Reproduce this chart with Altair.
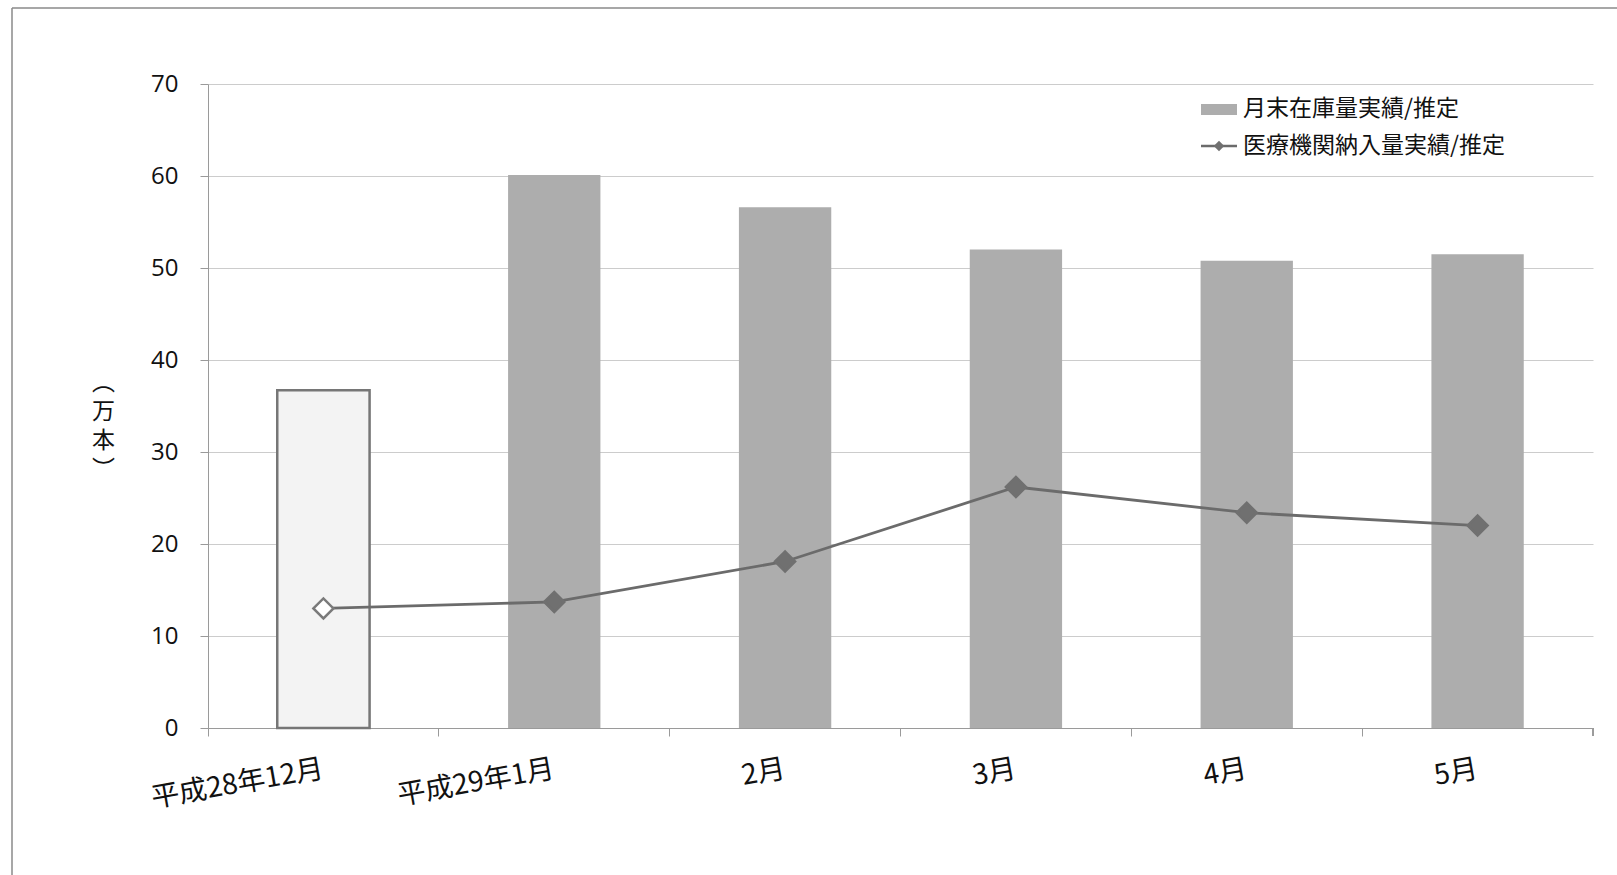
import altair as alt
import pandas as pd

# Monthly figures (unit: 万本)
months = ["平成28年12月", "平成29年1月", "2月", "3月", "4月", "5月"]
years = ["H28", "H29", "H29", "H29", "H29", "H29"]
stock = [36.7, 60.1, 56.6, 52.0, 50.8, 51.5]        # 月末在庫量実績/推定
delivery = [13.0, 13.7, 18.1, 26.2, 23.4, 22.0]     # 医療機関納入量実績/推定

legend_labels = ["月末在庫量実績/推定", "医療機関納入量実績/推定"]

df = pd.DataFrame({"month": months, "year": years, "stock": stock, "delivery": delivery})

W, H = 1385, 644
FONT = "Noto Sans CJK JP"
NUM_FONT = "Open Sans, Noto Sans CJK JP"
BAR_GRAY = "#adadad"
LINE_GRAY = "#6b6b6b"

x_enc = alt.X(
    "month:N",
    sort=months,
    scale=alt.Scale(paddingInner=0, paddingOuter=0),
    axis=alt.Axis(
        title=None,
        bandPosition=0,
        labelAngle=350,
        labelAlign="right",
        labelBaseline="middle",
        labelPadding=33,
        labelFontSize=28,
        labelFont=FONT,
        labelColor="#111111",
        labelOverlap=False,
        tickSize=8,
        tickColor="#9a9a9a",
        domainColor="#9a9a9a",
        grid=False,
    ),
)

y_scale = alt.Scale(domain=[0, 70], nice=False)

bars = alt.Chart(df).mark_bar(width=alt.RelativeBandSize(0.4)).encode(
    x=x_enc,
    y=alt.Y(
        "stock:Q",
        scale=y_scale,
        axis=alt.Axis(
            values=[0, 10, 20, 30, 40, 50, 60, 70],
            title=["︵", "万", "本", "︶"],
            titleAngle=0,
            titleX=-105,
            titleY=298,
            titleAlign="center",
            titleBaseline="middle",
            titleLineHeight=29,
            titleFont=FONT,
            titleFontSize=23,
            titleFontWeight="normal",
            titleColor="#111111",
            labelFontSize=24,
            labelFont=NUM_FONT,
            labelColor="#111111",
            labelPadding=22,
            tickSize=8,
            tickColor="#9a9a9a",
            domainColor="#9a9a9a",
            gridColor="#cccccc",
            gridWidth=1,
        ),
    ),
    fill=alt.condition(alt.datum.year == "H28", alt.value("#f3f3f3"), alt.value(BAR_GRAY)),
    stroke=alt.condition(alt.datum.year == "H28", alt.value("#767676"), alt.value("transparent")),
    strokeWidth=alt.value(2.5),
)

line = alt.Chart(df).mark_line(color=LINE_GRAY, strokeWidth=2.8).encode(
    x=alt.X("month:N", sort=months),
    y=alt.Y("delivery:Q", scale=y_scale),
)

points = alt.Chart(df).mark_point(shape="diamond", size=400, strokeWidth=2.5, opacity=1).encode(
    x=alt.X("month:N", sort=months),
    y=alt.Y("delivery:Q", scale=y_scale),
    fill=alt.condition(alt.datum.year == "H28", alt.value("white"), alt.value("#707070")),
    stroke=alt.condition(alt.datum.year == "H28", alt.value("#7a7a7a"), alt.value("#707070")),
)

# right-end tick of the category axis
end_tick = alt.Chart(df).mark_rule(color="#9a9a9a").encode(
    x=alt.value(W), y=alt.value(H), y2=alt.value(H + 8)
)

# legend drawn in the upper right of the plot
leg_df = pd.DataFrame({"label": legend_labels})
first = alt.datum.label == legend_labels[0]
second = alt.datum.label == legend_labels[1]
leg_swatch = alt.Chart(leg_df).transform_filter(first).mark_rect(
    color=BAR_GRAY
).encode(x=alt.value(993), x2=alt.value(1029), y=alt.value(20), y2=alt.value(31))
leg_line = alt.Chart(leg_df).transform_filter(second).mark_rule(
    color=LINE_GRAY, strokeWidth=2.5
).encode(x=alt.value(993), x2=alt.value(1029), y=alt.value(62))
leg_point = alt.Chart(leg_df).transform_filter(second).mark_point(
    shape="diamond", size=110, filled=True, color="#707070", opacity=1
).encode(x=alt.value(1011), y=alt.value(62))
leg_text1 = alt.Chart(leg_df).transform_filter(first).mark_text(
    align="left", baseline="middle", font=FONT, fontSize=23, color="#111111"
).encode(x=alt.value(1035), y=alt.value(25), text="label:N")
leg_text2 = alt.Chart(leg_df).transform_filter(second).mark_text(
    align="left", baseline="middle", font=FONT, fontSize=23, color="#111111"
).encode(x=alt.value(1035), y=alt.value(62), text="label:N")

# outer frame (top and left edges)
frame_top = alt.Chart(leg_df).transform_filter(first).mark_rule(
    color="#8a8a8a", strokeWidth=1.5
).encode(x=alt.value(-196), x2=alt.value(W + 30), y=alt.value(-76))
frame_left = alt.Chart(leg_df).transform_filter(first).mark_rule(
    color="#8a8a8a", strokeWidth=1.5
).encode(x=alt.value(-196), y=alt.value(-76), y2=alt.value(H + 160))

chart = alt.layer(
    bars, line, points, end_tick,
    leg_swatch, leg_line, leg_point, leg_text1, leg_text2,
    frame_top, frame_left,
).properties(
    width=W,
    height=H,
    autosize=alt.AutoSizeParams(type="none"),
    padding={"left": 208, "top": 84, "right": 24, "bottom": 147},
    background="white",
).configure_view(stroke=None)

chart.save("out.html", embed_options={"renderer": "svg", "actions": False})
